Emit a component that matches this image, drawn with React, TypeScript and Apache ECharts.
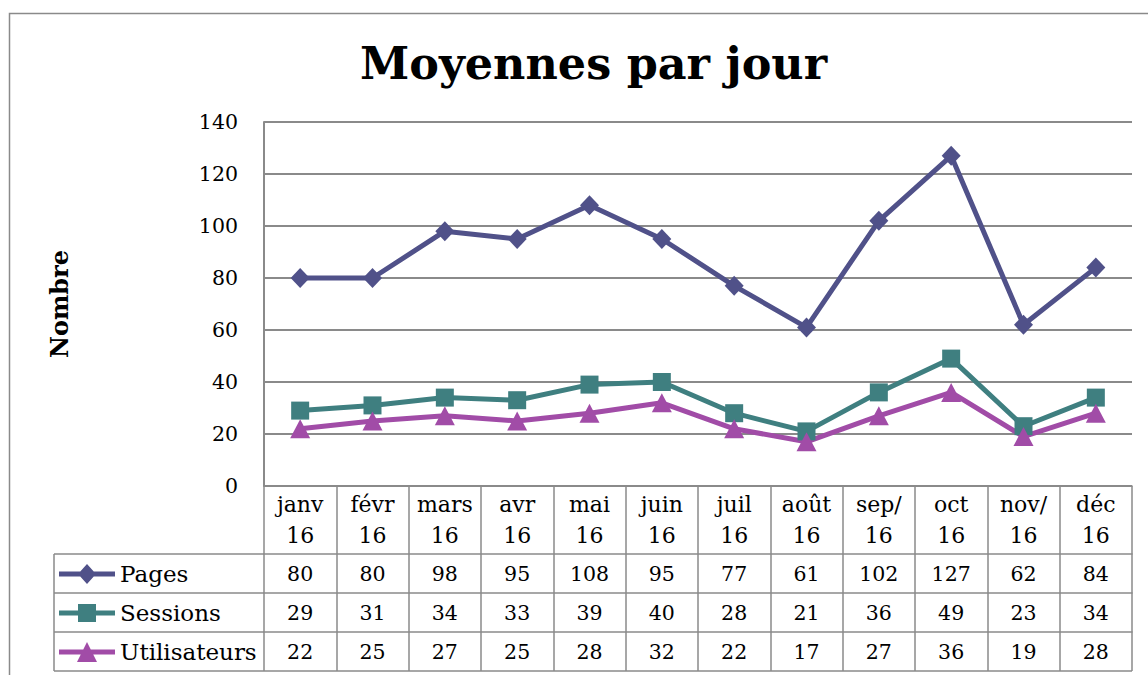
import React, { useEffect, useRef } from "react";
import * as echarts from "echarts";

const categories = ["janv\n16", "févr\n16", "mars\n16", "avr\n16", "mai\n16", "juin\n16", "juil\n16", "août\n16", "sep/\n16", "oct\n16", "nov/\n16", "déc\n16"];
const seriesNames = ["Pages", "Sessions", "Utilisateurs"];
const pages = [80, 80, 98, 95, 108, 95, 77, 61, 102, 127, 62, 84];
const sessions = [29, 31, 34, 33, 39, 40, 28, 21, 36, 49, 23, 34];
const users = [22, 25, 27, 25, 28, 32, 22, 17, 27, 36, 19, 28];
const yTicks = { min: 0, max: 140, interval: 20 };

const FONT = "'DejaVu Serif', Georgia, serif";
const GRID = "#8a8a8a";
const colors = ["#505189", "#3F7F80", "#A14CA7"];
const symbols = ["diamond", "rect", "triangle"];
const symbolSizes = [[19, 20], 18, [20, 19]];

const BAR = "M0,7.5 L56,7.5 L56,12.5 L0,12.5 Z ";
const legendIcons = [
  "path://" + BAR + "M28,0 L37,10 L28,20 L19,10 Z",
  "path://" + BAR + "M19,1 L37,1 L37,19 L19,19 Z",
  "path://" + BAR + "M28,0 L38,20 L18,20 Z",
];

export default function App() {
  const ref = useRef<HTMLDivElement>(null);
  useEffect(() => {
    document.body.style.margin = "0";
    const chart = echarts.init(ref.current!, null, { renderer: "svg" });
    const L = 264, T = 122, R = 1132, B = 486;
    const rowH = 39;
    const headerH = 68;
    const rows = [pages, sessions, users];

    const rowAxes = rows.map((vals, i) => ({
      type: "category",
      gridIndex: 0,
      position: "bottom",
      offset: headerH + i * rowH,
      data: categories,
      boundaryGap: true,
      axisLine: { show: true, lineStyle: { color: GRID, width: 1.5 } },
      axisTick: { show: true, length: rowH, interval: 0, lineStyle: { color: GRID, width: 1.5 } },
      axisLabel: {
        interval: 0,
        margin: 10,
        fontFamily: FONT,
        fontSize: 20.5,
        lineHeight: 20,
        color: "#000",
        formatter: (_v: string, idx: number) => String(vals[idx]),
      },
      splitLine: { show: false },
      axisPointer: { show: false },
    }));

    const bottomY = B + headerH + 3 * rowH;

    chart.setOption({
      animation: false,
      textStyle: { fontFamily: FONT },
      title: {
        text: "Moyennes par jour",
        left: 355,
        top: 35,
        textStyle: { fontFamily: FONT, fontSize: 44.5, fontWeight: "bold", color: "#000" },
      },
      legend: {
        orient: "vertical",
        left: 59,
        top: 562.5,
        padding: 0,
        itemWidth: 56,
        itemHeight: 20,
        itemGap: 16,
        data: seriesNames.map((n, i) => ({ name: n, icon: legendIcons[i] })),
        textStyle: { fontFamily: FONT, fontSize: 23, color: "#000" },
      },
      grid: { left: L, top: T, right: 1148 - R, bottom: 675 - B, containLabel: false },
      xAxis: [
        {
          type: "category",
          data: categories,
          boundaryGap: true,
          axisLine: { show: true, lineStyle: { color: GRID, width: 1.5 } },
          axisTick: { show: true, length: headerH, interval: 0, lineStyle: { color: GRID, width: 1.5 } },
          axisLabel: { interval: 0, margin: 3, fontFamily: FONT, fontSize: 22, lineHeight: 31, color: "#000" },
          splitLine: { show: false },
        },
        ...rowAxes,
      ],
      yAxis: {
        type: "value",
        min: yTicks.min,
        max: yTicks.max,
        interval: yTicks.interval,
        name: "Nombre",
        nameLocation: "middle",
        nameRotate: 90,
        nameGap: 193,
        nameTextStyle: { fontFamily: FONT, fontSize: 24, fontWeight: "bold", color: "#000" },
        axisLine: { show: true, lineStyle: { color: GRID, width: 2 } },
        axisTick: { show: false },
        axisLabel: { margin: 26, fontFamily: FONT, fontSize: 20.5, color: "#000" },
        splitLine: { show: true, lineStyle: { color: GRID, width: 2 } },
      },
      series: rows.map((vals, i) => ({
        type: "line",
        name: seriesNames[i],
        data: vals,
        xAxisIndex: 0,
        symbol: symbols[i],
        symbolSize: symbolSizes[i],
        showAllSymbol: true,
        lineStyle: { color: colors[i], width: 5 },
        itemStyle: { color: colors[i] },
      })),
      graphic: [
        { type: "rect", shape: { x: 9.5, y: 13.5, width: 1300, height: 800 }, style: { fill: "none", stroke: GRID, lineWidth: 1.5 }, silent: true },
        { type: "line", shape: { x1: 54, y1: B + headerH, x2: 54, y2: bottomY }, style: { stroke: GRID, lineWidth: 1.5 } },
        ...[0, 1, 2, 3].map((k) => ({
          type: "line",
          shape: { x1: 54, y1: B + headerH + k * rowH, x2: k === 3 ? R : L, y2: B + headerH + k * rowH },
          style: { stroke: GRID, lineWidth: 1.5 },
        })),
      ],
    });
    return () => chart.dispose();
  }, []);
  return <div ref={ref} style={{ width: 1148, height: 675 }} />;
}
